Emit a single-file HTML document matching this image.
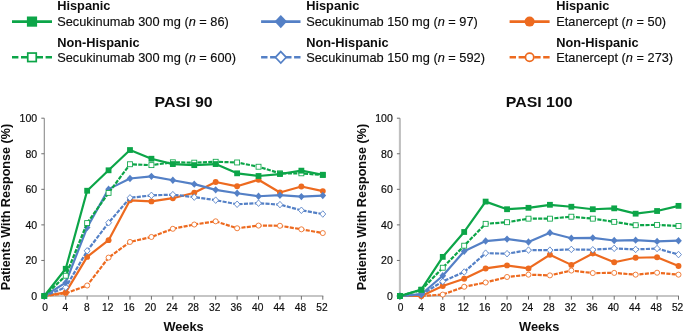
<!DOCTYPE html>
<html><head><meta charset="utf-8"><style>
html,body{margin:0;padding:0;background:#fff;}
body{width:685px;height:333px;overflow:hidden;}
svg{display:block;will-change:transform;font-family:"Liberation Sans",sans-serif;}
.tk{font-size:11.1px;fill:#0d0d0d;stroke:#0d0d0d;stroke-width:0.2px;}
.ax{font-size:12.6px;font-weight:bold;fill:#0d0d0d;}
.ti{font-size:15.9px;font-weight:bold;fill:#0d0d0d;}
.lh{font-size:12.8px;font-weight:bold;fill:#0d0d0d;}
.lt{font-size:12.8px;fill:#0d0d0d;stroke:#0d0d0d;stroke-width:0.15px;}
</style></head><body>
<svg width="685" height="333" viewBox="0 0 685 333">
<line x1="12" y1="21.6" x2="52" y2="21.6" stroke="#0ca548" stroke-width="2.7"/>
<rect x="26.90" y="16.50" width="10.20" height="10.20" fill="#0ca548"/>
<text transform="translate(57.2,10.3) scale(1,0.935)" x="0" y="0" class="lh">Hispanic</text>
<text transform="translate(57.2,25.6) scale(1,0.95)" x="0" y="0" class="lt">Secukinumab 300 mg (<tspan font-style="italic">n</tspan> = 86)</text>
<line x1="12" y1="57.3" x2="32.0" y2="57.3" stroke="#0ca548" stroke-width="2.4" stroke-dasharray="6.4 2.6"/>
<line x1="52" y1="57.3" x2="32.0" y2="57.3" stroke="#0ca548" stroke-width="2.4" stroke-dasharray="6.4 2.6"/>
<rect x="27.75" y="53.05" width="8.50" height="8.50" fill="#fff" stroke="#0ca548" stroke-width="1.7"/>
<text transform="translate(57.2,47.2) scale(1,0.935)" x="0" y="0" class="lh">Non-Hispanic</text>
<text transform="translate(57.2,62.2) scale(1,0.95)" x="0" y="0" class="lt">Secukinumab 300 mg (<tspan font-style="italic">n</tspan> = 600)</text>
<line x1="261.1" y1="21.6" x2="300.5" y2="21.6" stroke="#5480c6" stroke-width="2.7"/>
<polygon points="280.80,15.05 287.02,21.60 280.80,28.15 274.58,21.60" fill="#5480c6"/>
<text transform="translate(306.2,10.3) scale(1,0.935)" x="0" y="0" class="lh">Hispanic</text>
<text transform="translate(306.2,25.6) scale(1,0.95)" x="0" y="0" class="lt">Secukinumab 150 mg (<tspan font-style="italic">n</tspan> = 97)</text>
<line x1="261.1" y1="57.3" x2="280.8" y2="57.3" stroke="#5480c6" stroke-width="2.4" stroke-dasharray="6.4 2.6"/>
<line x1="300.5" y1="57.3" x2="280.8" y2="57.3" stroke="#5480c6" stroke-width="2.4" stroke-dasharray="6.4 2.6"/>
<polygon points="280.80,51.60 286.22,57.30 280.80,63.00 275.38,57.30" fill="#fff" stroke="#5480c6" stroke-width="1.7"/>
<text transform="translate(306.2,47.2) scale(1,0.935)" x="0" y="0" class="lh">Non-Hispanic</text>
<text transform="translate(306.2,62.2) scale(1,0.95)" x="0" y="0" class="lt">Secukinumab 150 mg (<tspan font-style="italic">n</tspan> = 592)</text>
<line x1="509.6" y1="21.6" x2="549.6" y2="21.6" stroke="#ed6a1f" stroke-width="2.7"/>
<circle cx="529.60" cy="21.60" r="5.00" fill="#ed6a1f"/>
<text transform="translate(556.2,10.3) scale(1,0.935)" x="0" y="0" class="lh">Hispanic</text>
<text transform="translate(556.2,25.6) scale(1,0.95)" x="0" y="0" class="lt">Etanercept (<tspan font-style="italic">n</tspan> = 50)</text>
<line x1="509.6" y1="57.3" x2="529.6" y2="57.3" stroke="#ed6a1f" stroke-width="2.4" stroke-dasharray="6.4 2.6"/>
<line x1="549.6" y1="57.3" x2="529.6" y2="57.3" stroke="#ed6a1f" stroke-width="2.4" stroke-dasharray="6.4 2.6"/>
<circle cx="529.60" cy="57.30" r="4.15" fill="#fff" stroke="#ed6a1f" stroke-width="1.7"/>
<text transform="translate(556.2,47.2) scale(1,0.935)" x="0" y="0" class="lh">Non-Hispanic</text>
<text transform="translate(556.2,62.2) scale(1,0.95)" x="0" y="0" class="lt">Etanercept (<tspan font-style="italic">n</tspan> = 273)</text>
<line x1="44.3" y1="118.2" x2="44.3" y2="296.5" stroke="#8c8c8c" stroke-width="1.1"/>
<line x1="43.8" y1="296.0" x2="323.3" y2="296.0" stroke="#8c8c8c" stroke-width="1.1"/>
<line x1="41.3" y1="296.00" x2="44.3" y2="296.00" stroke="#6e6e6e" stroke-width="1"/>
<text transform="translate(37.20,299.90) scale(0.95,1)" x="0" y="0" text-anchor="end" class="tk">0</text>
<line x1="41.3" y1="260.44" x2="44.3" y2="260.44" stroke="#6e6e6e" stroke-width="1"/>
<text transform="translate(37.20,264.34) scale(0.95,1)" x="0" y="0" text-anchor="end" class="tk">20</text>
<line x1="41.3" y1="224.88" x2="44.3" y2="224.88" stroke="#6e6e6e" stroke-width="1"/>
<text transform="translate(37.20,228.78) scale(0.95,1)" x="0" y="0" text-anchor="end" class="tk">40</text>
<line x1="41.3" y1="189.32" x2="44.3" y2="189.32" stroke="#6e6e6e" stroke-width="1"/>
<text transform="translate(37.20,193.22) scale(0.95,1)" x="0" y="0" text-anchor="end" class="tk">60</text>
<line x1="41.3" y1="153.76" x2="44.3" y2="153.76" stroke="#6e6e6e" stroke-width="1"/>
<text transform="translate(37.20,157.66) scale(0.95,1)" x="0" y="0" text-anchor="end" class="tk">80</text>
<line x1="41.3" y1="118.20" x2="44.3" y2="118.20" stroke="#6e6e6e" stroke-width="1"/>
<text transform="translate(37.20,122.10) scale(0.95,1)" x="0" y="0" text-anchor="end" class="tk">100</text>
<line x1="44.30" y1="296.0" x2="44.30" y2="299.7" stroke="#6e6e6e" stroke-width="1"/>
<text transform="translate(45.00,310.80) scale(0.88,1)" x="0" y="0" text-anchor="middle" class="tk" style="font-size:11.6px">0</text>
<line x1="65.72" y1="296.0" x2="65.72" y2="299.7" stroke="#6e6e6e" stroke-width="1"/>
<text transform="translate(65.42,310.80) scale(0.88,1)" x="0" y="0" text-anchor="middle" class="tk" style="font-size:11.6px">4</text>
<line x1="87.15" y1="296.0" x2="87.15" y2="299.7" stroke="#6e6e6e" stroke-width="1"/>
<text transform="translate(86.85,310.80) scale(0.88,1)" x="0" y="0" text-anchor="middle" class="tk" style="font-size:11.6px">8</text>
<line x1="108.57" y1="296.0" x2="108.57" y2="299.7" stroke="#6e6e6e" stroke-width="1"/>
<text transform="translate(107.67,310.80) scale(0.88,1)" x="0" y="0" text-anchor="middle" class="tk" style="font-size:11.6px">12</text>
<line x1="129.99" y1="296.0" x2="129.99" y2="299.7" stroke="#6e6e6e" stroke-width="1"/>
<text transform="translate(129.09,310.80) scale(0.88,1)" x="0" y="0" text-anchor="middle" class="tk" style="font-size:11.6px">16</text>
<line x1="151.42" y1="296.0" x2="151.42" y2="299.7" stroke="#6e6e6e" stroke-width="1"/>
<text transform="translate(150.52,310.80) scale(0.88,1)" x="0" y="0" text-anchor="middle" class="tk" style="font-size:11.6px">20</text>
<line x1="172.84" y1="296.0" x2="172.84" y2="299.7" stroke="#6e6e6e" stroke-width="1"/>
<text transform="translate(171.94,310.80) scale(0.88,1)" x="0" y="0" text-anchor="middle" class="tk" style="font-size:11.6px">24</text>
<line x1="194.26" y1="296.0" x2="194.26" y2="299.7" stroke="#6e6e6e" stroke-width="1"/>
<text transform="translate(193.36,310.80) scale(0.88,1)" x="0" y="0" text-anchor="middle" class="tk" style="font-size:11.6px">28</text>
<line x1="215.68" y1="296.0" x2="215.68" y2="299.7" stroke="#6e6e6e" stroke-width="1"/>
<text transform="translate(214.78,310.80) scale(0.88,1)" x="0" y="0" text-anchor="middle" class="tk" style="font-size:11.6px">32</text>
<line x1="237.11" y1="296.0" x2="237.11" y2="299.7" stroke="#6e6e6e" stroke-width="1"/>
<text transform="translate(236.21,310.80) scale(0.88,1)" x="0" y="0" text-anchor="middle" class="tk" style="font-size:11.6px">36</text>
<line x1="258.53" y1="296.0" x2="258.53" y2="299.7" stroke="#6e6e6e" stroke-width="1"/>
<text transform="translate(257.63,310.80) scale(0.88,1)" x="0" y="0" text-anchor="middle" class="tk" style="font-size:11.6px">40</text>
<line x1="279.95" y1="296.0" x2="279.95" y2="299.7" stroke="#6e6e6e" stroke-width="1"/>
<text transform="translate(279.05,310.80) scale(0.88,1)" x="0" y="0" text-anchor="middle" class="tk" style="font-size:11.6px">44</text>
<line x1="301.38" y1="296.0" x2="301.38" y2="299.7" stroke="#6e6e6e" stroke-width="1"/>
<text transform="translate(300.48,310.80) scale(0.88,1)" x="0" y="0" text-anchor="middle" class="tk" style="font-size:11.6px">48</text>
<line x1="322.80" y1="296.0" x2="322.80" y2="299.7" stroke="#6e6e6e" stroke-width="1"/>
<text transform="translate(321.90,310.80) scale(0.88,1)" x="0" y="0" text-anchor="middle" class="tk" style="font-size:11.6px">52</text>
<text transform="translate(183.55,331.0) scale(1,0.95)" x="0" y="0" text-anchor="middle" class="ax" style="font-size:12.8px">Weeks</text>
<text transform="translate(183.55,106.8) scale(1,0.96)" x="0" y="0" text-anchor="middle" class="ti">PASI 90</text>
<text transform="translate(10.10,207.10) rotate(-90)" x="0" y="0" text-anchor="middle" class="ax">Patients With Response (%)</text>
<polyline points="44.30,296.00 65.72,293.33 87.15,285.51 108.57,257.60 129.99,241.95 151.42,236.97 172.84,228.79 194.26,224.52 215.68,221.32 237.11,228.26 258.53,225.59 279.95,225.77 301.38,229.32 322.80,233.06" fill="none" stroke="#ed6a1f" stroke-width="2.2" stroke-linejoin="round" stroke-dasharray="4.1 1.3"/>
<circle cx="44.30" cy="296.00" r="2.53" fill="#fff" stroke="#ed6a1f" stroke-width="0.85"/>
<circle cx="65.72" cy="293.33" r="2.53" fill="#fff" stroke="#ed6a1f" stroke-width="0.85"/>
<circle cx="87.15" cy="285.51" r="2.53" fill="#fff" stroke="#ed6a1f" stroke-width="0.85"/>
<circle cx="108.57" cy="257.60" r="2.53" fill="#fff" stroke="#ed6a1f" stroke-width="0.85"/>
<circle cx="129.99" cy="241.95" r="2.53" fill="#fff" stroke="#ed6a1f" stroke-width="0.85"/>
<circle cx="151.42" cy="236.97" r="2.53" fill="#fff" stroke="#ed6a1f" stroke-width="0.85"/>
<circle cx="172.84" cy="228.79" r="2.53" fill="#fff" stroke="#ed6a1f" stroke-width="0.85"/>
<circle cx="194.26" cy="224.52" r="2.53" fill="#fff" stroke="#ed6a1f" stroke-width="0.85"/>
<circle cx="215.68" cy="221.32" r="2.53" fill="#fff" stroke="#ed6a1f" stroke-width="0.85"/>
<circle cx="237.11" cy="228.26" r="2.53" fill="#fff" stroke="#ed6a1f" stroke-width="0.85"/>
<circle cx="258.53" cy="225.59" r="2.53" fill="#fff" stroke="#ed6a1f" stroke-width="0.85"/>
<circle cx="279.95" cy="225.77" r="2.53" fill="#fff" stroke="#ed6a1f" stroke-width="0.85"/>
<circle cx="301.38" cy="229.32" r="2.53" fill="#fff" stroke="#ed6a1f" stroke-width="0.85"/>
<circle cx="322.80" cy="233.06" r="2.53" fill="#fff" stroke="#ed6a1f" stroke-width="0.85"/>
<polyline points="44.30,296.00 65.72,292.44 87.15,256.88 108.57,240.17 129.99,200.34 151.42,201.41 172.84,198.21 194.26,192.70 215.68,182.03 237.11,186.30 258.53,179.72 279.95,192.52 301.38,186.48 322.80,191.10" fill="none" stroke="#ed6a1f" stroke-width="2.2" stroke-linejoin="round"/>
<circle cx="44.30" cy="296.00" r="2.95" fill="#ed6a1f"/>
<circle cx="65.72" cy="292.44" r="2.95" fill="#ed6a1f"/>
<circle cx="87.15" cy="256.88" r="2.95" fill="#ed6a1f"/>
<circle cx="108.57" cy="240.17" r="2.95" fill="#ed6a1f"/>
<circle cx="129.99" cy="200.34" r="2.95" fill="#ed6a1f"/>
<circle cx="151.42" cy="201.41" r="2.95" fill="#ed6a1f"/>
<circle cx="172.84" cy="198.21" r="2.95" fill="#ed6a1f"/>
<circle cx="194.26" cy="192.70" r="2.95" fill="#ed6a1f"/>
<circle cx="215.68" cy="182.03" r="2.95" fill="#ed6a1f"/>
<circle cx="237.11" cy="186.30" r="2.95" fill="#ed6a1f"/>
<circle cx="258.53" cy="179.72" r="2.95" fill="#ed6a1f"/>
<circle cx="279.95" cy="192.52" r="2.95" fill="#ed6a1f"/>
<circle cx="301.38" cy="186.48" r="2.95" fill="#ed6a1f"/>
<circle cx="322.80" cy="191.10" r="2.95" fill="#ed6a1f"/>
<polyline points="44.30,296.00 65.72,287.29 87.15,250.84 108.57,222.75 129.99,197.85 151.42,195.37 172.84,194.65 194.26,197.14 215.68,200.17 237.11,204.26 258.53,203.19 279.95,204.61 301.38,210.30 322.80,214.03" fill="none" stroke="#5480c6" stroke-width="2.2" stroke-linejoin="round" stroke-dasharray="4.1 1.3"/>
<polygon points="44.30,292.73 47.25,296.00 44.30,299.27 41.35,296.00" fill="#fff" stroke="#5480c6" stroke-width="0.85"/>
<polygon points="65.72,284.01 68.67,287.29 65.72,290.56 62.78,287.29" fill="#fff" stroke="#5480c6" stroke-width="0.85"/>
<polygon points="87.15,247.56 90.09,250.84 87.15,254.11 84.20,250.84" fill="#fff" stroke="#5480c6" stroke-width="0.85"/>
<polygon points="108.57,219.47 111.52,222.75 108.57,226.02 105.62,222.75" fill="#fff" stroke="#5480c6" stroke-width="0.85"/>
<polygon points="129.99,194.58 132.94,197.85 129.99,201.13 127.04,197.85" fill="#fff" stroke="#5480c6" stroke-width="0.85"/>
<polygon points="151.42,192.09 154.36,195.37 151.42,198.64 148.47,195.37" fill="#fff" stroke="#5480c6" stroke-width="0.85"/>
<polygon points="172.84,191.38 175.79,194.65 172.84,197.93 169.89,194.65" fill="#fff" stroke="#5480c6" stroke-width="0.85"/>
<polygon points="194.26,193.87 197.21,197.14 194.26,200.42 191.31,197.14" fill="#fff" stroke="#5480c6" stroke-width="0.85"/>
<polygon points="215.68,196.89 218.63,200.17 215.68,203.44 212.74,200.17" fill="#fff" stroke="#5480c6" stroke-width="0.85"/>
<polygon points="237.11,200.98 240.06,204.26 237.11,207.53 234.16,204.26" fill="#fff" stroke="#5480c6" stroke-width="0.85"/>
<polygon points="258.53,199.91 261.48,203.19 258.53,206.46 255.58,203.19" fill="#fff" stroke="#5480c6" stroke-width="0.85"/>
<polygon points="279.95,201.34 282.90,204.61 279.95,207.89 277.01,204.61" fill="#fff" stroke="#5480c6" stroke-width="0.85"/>
<polygon points="301.38,207.03 304.32,210.30 301.38,213.58 298.43,210.30" fill="#fff" stroke="#5480c6" stroke-width="0.85"/>
<polygon points="322.80,210.76 325.75,214.03 322.80,217.31 319.85,214.03" fill="#fff" stroke="#5480c6" stroke-width="0.85"/>
<polyline points="44.30,296.00 65.72,282.67 87.15,227.55 108.57,189.14 129.99,178.47 151.42,176.34 172.84,180.25 194.26,184.16 215.68,189.85 237.11,193.23 258.53,196.25 279.95,195.19 301.38,196.61 322.80,195.54" fill="none" stroke="#5480c6" stroke-width="2.2" stroke-linejoin="round"/>
<polygon points="44.30,292.30 47.63,296.00 44.30,299.70 40.97,296.00" fill="#5480c6"/>
<polygon points="65.72,278.97 69.05,282.67 65.72,286.37 62.39,282.67" fill="#5480c6"/>
<polygon points="87.15,223.85 90.48,227.55 87.15,231.25 83.82,227.55" fill="#5480c6"/>
<polygon points="108.57,185.44 111.90,189.14 108.57,192.84 105.24,189.14" fill="#5480c6"/>
<polygon points="129.99,174.77 133.32,178.47 129.99,182.17 126.66,178.47" fill="#5480c6"/>
<polygon points="151.42,172.64 154.75,176.34 151.42,180.04 148.09,176.34" fill="#5480c6"/>
<polygon points="172.84,176.55 176.17,180.25 172.84,183.95 169.51,180.25" fill="#5480c6"/>
<polygon points="194.26,180.46 197.59,184.16 194.26,187.86 190.93,184.16" fill="#5480c6"/>
<polygon points="215.68,186.15 219.01,189.85 215.68,193.55 212.35,189.85" fill="#5480c6"/>
<polygon points="237.11,189.53 240.44,193.23 237.11,196.93 233.78,193.23" fill="#5480c6"/>
<polygon points="258.53,192.55 261.86,196.25 258.53,199.95 255.20,196.25" fill="#5480c6"/>
<polygon points="279.95,191.49 283.28,195.19 279.95,198.89 276.62,195.19" fill="#5480c6"/>
<polygon points="301.38,192.91 304.71,196.61 301.38,200.31 298.05,196.61" fill="#5480c6"/>
<polygon points="322.80,191.84 326.13,195.54 322.80,199.24 319.47,195.54" fill="#5480c6"/>
<polyline points="44.30,296.00 65.72,275.73 87.15,223.10 108.57,192.88 129.99,164.25 151.42,165.14 172.84,162.29 194.26,162.65 215.68,161.76 237.11,162.47 258.53,166.74 279.95,173.32 301.38,173.32 322.80,175.10" fill="none" stroke="#0ca548" stroke-width="2.2" stroke-linejoin="round" stroke-dasharray="4.1 1.3"/>
<rect x="41.82" y="293.52" width="4.95" height="4.95" fill="#fff" stroke="#0ca548" stroke-width="0.85"/>
<rect x="63.25" y="273.26" width="4.95" height="4.95" fill="#fff" stroke="#0ca548" stroke-width="0.85"/>
<rect x="84.67" y="220.63" width="4.95" height="4.95" fill="#fff" stroke="#0ca548" stroke-width="0.85"/>
<rect x="106.09" y="190.40" width="4.95" height="4.95" fill="#fff" stroke="#0ca548" stroke-width="0.85"/>
<rect x="127.52" y="161.78" width="4.95" height="4.95" fill="#fff" stroke="#0ca548" stroke-width="0.85"/>
<rect x="148.94" y="162.66" width="4.95" height="4.95" fill="#fff" stroke="#0ca548" stroke-width="0.85"/>
<rect x="170.36" y="159.82" width="4.95" height="4.95" fill="#fff" stroke="#0ca548" stroke-width="0.85"/>
<rect x="191.79" y="160.18" width="4.95" height="4.95" fill="#fff" stroke="#0ca548" stroke-width="0.85"/>
<rect x="213.21" y="159.29" width="4.95" height="4.95" fill="#fff" stroke="#0ca548" stroke-width="0.85"/>
<rect x="234.63" y="160.00" width="4.95" height="4.95" fill="#fff" stroke="#0ca548" stroke-width="0.85"/>
<rect x="256.06" y="164.26" width="4.95" height="4.95" fill="#fff" stroke="#0ca548" stroke-width="0.85"/>
<rect x="277.48" y="170.84" width="4.95" height="4.95" fill="#fff" stroke="#0ca548" stroke-width="0.85"/>
<rect x="298.90" y="170.84" width="4.95" height="4.95" fill="#fff" stroke="#0ca548" stroke-width="0.85"/>
<rect x="320.32" y="172.62" width="4.95" height="4.95" fill="#fff" stroke="#0ca548" stroke-width="0.85"/>
<polyline points="44.30,296.00 65.72,268.80 87.15,190.74 108.57,170.30 129.99,150.03 151.42,158.74 172.84,164.07 194.26,165.14 215.68,164.07 237.11,173.32 258.53,175.99 279.95,174.03 301.38,170.65 322.80,174.74" fill="none" stroke="#0ca548" stroke-width="2.2" stroke-linejoin="round"/>
<rect x="41.40" y="293.10" width="5.80" height="5.80" fill="#0ca548"/>
<rect x="62.82" y="265.90" width="5.80" height="5.80" fill="#0ca548"/>
<rect x="84.25" y="187.84" width="5.80" height="5.80" fill="#0ca548"/>
<rect x="105.67" y="167.40" width="5.80" height="5.80" fill="#0ca548"/>
<rect x="127.09" y="147.13" width="5.80" height="5.80" fill="#0ca548"/>
<rect x="148.52" y="155.84" width="5.80" height="5.80" fill="#0ca548"/>
<rect x="169.94" y="161.17" width="5.80" height="5.80" fill="#0ca548"/>
<rect x="191.36" y="162.24" width="5.80" height="5.80" fill="#0ca548"/>
<rect x="212.78" y="161.17" width="5.80" height="5.80" fill="#0ca548"/>
<rect x="234.21" y="170.42" width="5.80" height="5.80" fill="#0ca548"/>
<rect x="255.63" y="173.09" width="5.80" height="5.80" fill="#0ca548"/>
<rect x="277.05" y="171.13" width="5.80" height="5.80" fill="#0ca548"/>
<rect x="298.48" y="167.75" width="5.80" height="5.80" fill="#0ca548"/>
<rect x="319.90" y="171.84" width="5.80" height="5.80" fill="#0ca548"/>
<line x1="399.9" y1="118.2" x2="399.9" y2="296.5" stroke="#c0c0c0" stroke-width="2.1"/>
<line x1="399.4" y1="296.0" x2="679.0" y2="296.0" stroke="#8c8c8c" stroke-width="1.1"/>
<line x1="396.9" y1="296.00" x2="399.9" y2="296.00" stroke="#6e6e6e" stroke-width="1"/>
<text transform="translate(392.80,299.90) scale(0.95,1)" x="0" y="0" text-anchor="end" class="tk">0</text>
<line x1="396.9" y1="260.44" x2="399.9" y2="260.44" stroke="#6e6e6e" stroke-width="1"/>
<text transform="translate(392.80,264.34) scale(0.95,1)" x="0" y="0" text-anchor="end" class="tk">20</text>
<line x1="396.9" y1="224.88" x2="399.9" y2="224.88" stroke="#6e6e6e" stroke-width="1"/>
<text transform="translate(392.80,228.78) scale(0.95,1)" x="0" y="0" text-anchor="end" class="tk">40</text>
<line x1="396.9" y1="189.32" x2="399.9" y2="189.32" stroke="#6e6e6e" stroke-width="1"/>
<text transform="translate(392.80,193.22) scale(0.95,1)" x="0" y="0" text-anchor="end" class="tk">60</text>
<line x1="396.9" y1="153.76" x2="399.9" y2="153.76" stroke="#6e6e6e" stroke-width="1"/>
<text transform="translate(392.80,157.66) scale(0.95,1)" x="0" y="0" text-anchor="end" class="tk">80</text>
<line x1="396.9" y1="118.20" x2="399.9" y2="118.20" stroke="#6e6e6e" stroke-width="1"/>
<text transform="translate(392.80,122.10) scale(0.95,1)" x="0" y="0" text-anchor="end" class="tk">100</text>
<line x1="399.90" y1="296.0" x2="399.90" y2="299.7" stroke="#6e6e6e" stroke-width="1"/>
<text transform="translate(400.60,310.80) scale(0.88,1)" x="0" y="0" text-anchor="middle" class="tk" style="font-size:11.6px">0</text>
<line x1="421.33" y1="296.0" x2="421.33" y2="299.7" stroke="#6e6e6e" stroke-width="1"/>
<text transform="translate(421.03,310.80) scale(0.88,1)" x="0" y="0" text-anchor="middle" class="tk" style="font-size:11.6px">4</text>
<line x1="442.76" y1="296.0" x2="442.76" y2="299.7" stroke="#6e6e6e" stroke-width="1"/>
<text transform="translate(442.46,310.80) scale(0.88,1)" x="0" y="0" text-anchor="middle" class="tk" style="font-size:11.6px">8</text>
<line x1="464.19" y1="296.0" x2="464.19" y2="299.7" stroke="#6e6e6e" stroke-width="1"/>
<text transform="translate(463.29,310.80) scale(0.88,1)" x="0" y="0" text-anchor="middle" class="tk" style="font-size:11.6px">12</text>
<line x1="485.62" y1="296.0" x2="485.62" y2="299.7" stroke="#6e6e6e" stroke-width="1"/>
<text transform="translate(484.72,310.80) scale(0.88,1)" x="0" y="0" text-anchor="middle" class="tk" style="font-size:11.6px">16</text>
<line x1="507.05" y1="296.0" x2="507.05" y2="299.7" stroke="#6e6e6e" stroke-width="1"/>
<text transform="translate(506.15,310.80) scale(0.88,1)" x="0" y="0" text-anchor="middle" class="tk" style="font-size:11.6px">20</text>
<line x1="528.48" y1="296.0" x2="528.48" y2="299.7" stroke="#6e6e6e" stroke-width="1"/>
<text transform="translate(527.58,310.80) scale(0.88,1)" x="0" y="0" text-anchor="middle" class="tk" style="font-size:11.6px">24</text>
<line x1="549.92" y1="296.0" x2="549.92" y2="299.7" stroke="#6e6e6e" stroke-width="1"/>
<text transform="translate(549.02,310.80) scale(0.88,1)" x="0" y="0" text-anchor="middle" class="tk" style="font-size:11.6px">28</text>
<line x1="571.35" y1="296.0" x2="571.35" y2="299.7" stroke="#6e6e6e" stroke-width="1"/>
<text transform="translate(570.45,310.80) scale(0.88,1)" x="0" y="0" text-anchor="middle" class="tk" style="font-size:11.6px">32</text>
<line x1="592.78" y1="296.0" x2="592.78" y2="299.7" stroke="#6e6e6e" stroke-width="1"/>
<text transform="translate(591.88,310.80) scale(0.88,1)" x="0" y="0" text-anchor="middle" class="tk" style="font-size:11.6px">36</text>
<line x1="614.21" y1="296.0" x2="614.21" y2="299.7" stroke="#6e6e6e" stroke-width="1"/>
<text transform="translate(613.31,310.80) scale(0.88,1)" x="0" y="0" text-anchor="middle" class="tk" style="font-size:11.6px">40</text>
<line x1="635.64" y1="296.0" x2="635.64" y2="299.7" stroke="#6e6e6e" stroke-width="1"/>
<text transform="translate(634.74,310.80) scale(0.88,1)" x="0" y="0" text-anchor="middle" class="tk" style="font-size:11.6px">44</text>
<line x1="657.07" y1="296.0" x2="657.07" y2="299.7" stroke="#6e6e6e" stroke-width="1"/>
<text transform="translate(656.17,310.80) scale(0.88,1)" x="0" y="0" text-anchor="middle" class="tk" style="font-size:11.6px">48</text>
<line x1="678.50" y1="296.0" x2="678.50" y2="299.7" stroke="#6e6e6e" stroke-width="1"/>
<text transform="translate(677.60,310.80) scale(0.88,1)" x="0" y="0" text-anchor="middle" class="tk" style="font-size:11.6px">52</text>
<text transform="translate(539.20,331.0) scale(1,0.95)" x="0" y="0" text-anchor="middle" class="ax" style="font-size:12.8px">Weeks</text>
<text transform="translate(539.20,106.8) scale(1,0.96)" x="0" y="0" text-anchor="middle" class="ti">PASI 100</text>
<text transform="translate(365.80,207.10) rotate(-90)" x="0" y="0" text-anchor="middle" class="ax">Patients With Response (%)</text>
<polyline points="399.90,296.00 421.33,296.00 442.76,294.58 464.19,286.75 485.62,282.49 507.05,276.98 528.48,274.66 549.92,275.38 571.35,270.57 592.78,273.06 614.21,272.89 635.64,274.66 657.07,272.71 678.50,274.66" fill="none" stroke="#ed6a1f" stroke-width="2.2" stroke-linejoin="round" stroke-dasharray="4.1 1.3"/>
<circle cx="399.90" cy="296.00" r="2.53" fill="#fff" stroke="#ed6a1f" stroke-width="0.85"/>
<circle cx="421.33" cy="296.00" r="2.53" fill="#fff" stroke="#ed6a1f" stroke-width="0.85"/>
<circle cx="442.76" cy="294.58" r="2.53" fill="#fff" stroke="#ed6a1f" stroke-width="0.85"/>
<circle cx="464.19" cy="286.75" r="2.53" fill="#fff" stroke="#ed6a1f" stroke-width="0.85"/>
<circle cx="485.62" cy="282.49" r="2.53" fill="#fff" stroke="#ed6a1f" stroke-width="0.85"/>
<circle cx="507.05" cy="276.98" r="2.53" fill="#fff" stroke="#ed6a1f" stroke-width="0.85"/>
<circle cx="528.48" cy="274.66" r="2.53" fill="#fff" stroke="#ed6a1f" stroke-width="0.85"/>
<circle cx="549.92" cy="275.38" r="2.53" fill="#fff" stroke="#ed6a1f" stroke-width="0.85"/>
<circle cx="571.35" cy="270.57" r="2.53" fill="#fff" stroke="#ed6a1f" stroke-width="0.85"/>
<circle cx="592.78" cy="273.06" r="2.53" fill="#fff" stroke="#ed6a1f" stroke-width="0.85"/>
<circle cx="614.21" cy="272.89" r="2.53" fill="#fff" stroke="#ed6a1f" stroke-width="0.85"/>
<circle cx="635.64" cy="274.66" r="2.53" fill="#fff" stroke="#ed6a1f" stroke-width="0.85"/>
<circle cx="657.07" cy="272.71" r="2.53" fill="#fff" stroke="#ed6a1f" stroke-width="0.85"/>
<circle cx="678.50" cy="274.66" r="2.53" fill="#fff" stroke="#ed6a1f" stroke-width="0.85"/>
<polyline points="399.90,296.00 421.33,296.00 442.76,286.04 464.19,278.75 485.62,268.44 507.05,265.42 528.48,268.44 549.92,254.75 571.35,264.88 592.78,253.51 614.21,262.22 635.64,257.77 657.07,257.24 678.50,265.95" fill="none" stroke="#ed6a1f" stroke-width="2.2" stroke-linejoin="round"/>
<circle cx="399.90" cy="296.00" r="2.95" fill="#ed6a1f"/>
<circle cx="421.33" cy="296.00" r="2.95" fill="#ed6a1f"/>
<circle cx="442.76" cy="286.04" r="2.95" fill="#ed6a1f"/>
<circle cx="464.19" cy="278.75" r="2.95" fill="#ed6a1f"/>
<circle cx="485.62" cy="268.44" r="2.95" fill="#ed6a1f"/>
<circle cx="507.05" cy="265.42" r="2.95" fill="#ed6a1f"/>
<circle cx="528.48" cy="268.44" r="2.95" fill="#ed6a1f"/>
<circle cx="549.92" cy="254.75" r="2.95" fill="#ed6a1f"/>
<circle cx="571.35" cy="264.88" r="2.95" fill="#ed6a1f"/>
<circle cx="592.78" cy="253.51" r="2.95" fill="#ed6a1f"/>
<circle cx="614.21" cy="262.22" r="2.95" fill="#ed6a1f"/>
<circle cx="635.64" cy="257.77" r="2.95" fill="#ed6a1f"/>
<circle cx="657.07" cy="257.24" r="2.95" fill="#ed6a1f"/>
<circle cx="678.50" cy="265.95" r="2.95" fill="#ed6a1f"/>
<polyline points="399.90,296.00 421.33,294.58 442.76,281.42 464.19,272.00 485.62,253.15 507.05,253.68 528.48,250.13 549.92,250.13 571.35,249.42 592.78,249.77 614.21,248.35 635.64,249.42 657.07,248.53 678.50,254.57" fill="none" stroke="#5480c6" stroke-width="2.2" stroke-linejoin="round" stroke-dasharray="4.1 1.3"/>
<polygon points="399.90,292.73 402.85,296.00 399.90,299.27 396.95,296.00" fill="#fff" stroke="#5480c6" stroke-width="0.85"/>
<polygon points="421.33,291.30 424.28,294.58 421.33,297.85 418.38,294.58" fill="#fff" stroke="#5480c6" stroke-width="0.85"/>
<polygon points="442.76,278.15 445.71,281.42 442.76,284.70 439.81,281.42" fill="#fff" stroke="#5480c6" stroke-width="0.85"/>
<polygon points="464.19,268.72 467.14,272.00 464.19,275.27 461.24,272.00" fill="#fff" stroke="#5480c6" stroke-width="0.85"/>
<polygon points="485.62,249.88 488.57,253.15 485.62,256.43 482.68,253.15" fill="#fff" stroke="#5480c6" stroke-width="0.85"/>
<polygon points="507.05,250.41 510.00,253.68 507.05,256.96 504.11,253.68" fill="#fff" stroke="#5480c6" stroke-width="0.85"/>
<polygon points="528.48,246.85 531.43,250.13 528.48,253.40 525.54,250.13" fill="#fff" stroke="#5480c6" stroke-width="0.85"/>
<polygon points="549.92,246.85 552.86,250.13 549.92,253.40 546.97,250.13" fill="#fff" stroke="#5480c6" stroke-width="0.85"/>
<polygon points="571.35,246.14 574.29,249.42 571.35,252.69 568.40,249.42" fill="#fff" stroke="#5480c6" stroke-width="0.85"/>
<polygon points="592.78,246.50 595.72,249.77 592.78,253.05 589.83,249.77" fill="#fff" stroke="#5480c6" stroke-width="0.85"/>
<polygon points="614.21,245.07 617.16,248.35 614.21,251.62 611.26,248.35" fill="#fff" stroke="#5480c6" stroke-width="0.85"/>
<polygon points="635.64,246.14 638.59,249.42 635.64,252.69 632.69,249.42" fill="#fff" stroke="#5480c6" stroke-width="0.85"/>
<polygon points="657.07,245.25 660.02,248.53 657.07,251.80 654.12,248.53" fill="#fff" stroke="#5480c6" stroke-width="0.85"/>
<polygon points="678.50,251.30 681.45,254.57 678.50,257.85 675.55,254.57" fill="#fff" stroke="#5480c6" stroke-width="0.85"/>
<polyline points="399.90,296.00 421.33,294.22 442.76,275.73 464.19,251.19 485.62,241.06 507.05,239.10 528.48,241.95 549.92,232.70 571.35,238.22 592.78,237.86 614.21,240.53 635.64,240.17 657.07,241.42 678.50,240.70" fill="none" stroke="#5480c6" stroke-width="2.2" stroke-linejoin="round"/>
<polygon points="399.90,292.30 403.23,296.00 399.90,299.70 396.57,296.00" fill="#5480c6"/>
<polygon points="421.33,290.52 424.66,294.22 421.33,297.92 418.00,294.22" fill="#5480c6"/>
<polygon points="442.76,272.03 446.09,275.73 442.76,279.43 439.43,275.73" fill="#5480c6"/>
<polygon points="464.19,247.49 467.52,251.19 464.19,254.89 460.86,251.19" fill="#5480c6"/>
<polygon points="485.62,237.36 488.95,241.06 485.62,244.76 482.29,241.06" fill="#5480c6"/>
<polygon points="507.05,235.40 510.38,239.10 507.05,242.80 503.72,239.10" fill="#5480c6"/>
<polygon points="528.48,238.25 531.81,241.95 528.48,245.65 525.15,241.95" fill="#5480c6"/>
<polygon points="549.92,229.00 553.25,232.70 549.92,236.40 546.59,232.70" fill="#5480c6"/>
<polygon points="571.35,234.52 574.68,238.22 571.35,241.91 568.02,238.22" fill="#5480c6"/>
<polygon points="592.78,234.16 596.11,237.86 592.78,241.56 589.45,237.86" fill="#5480c6"/>
<polygon points="614.21,236.83 617.54,240.53 614.21,244.23 610.88,240.53" fill="#5480c6"/>
<polygon points="635.64,236.47 638.97,240.17 635.64,243.87 632.31,240.17" fill="#5480c6"/>
<polygon points="657.07,237.72 660.40,241.42 657.07,245.12 653.74,241.42" fill="#5480c6"/>
<polygon points="678.50,237.00 681.83,240.70 678.50,244.40 675.17,240.70" fill="#5480c6"/>
<polyline points="399.90,296.00 421.33,289.95 442.76,267.73 464.19,245.68 485.62,223.81 507.05,222.21 528.48,218.66 549.92,218.66 571.35,216.70 592.78,218.66 614.21,221.86 635.64,225.24 657.07,224.88 678.50,225.95" fill="none" stroke="#0ca548" stroke-width="2.2" stroke-linejoin="round" stroke-dasharray="4.1 1.3"/>
<rect x="397.42" y="293.52" width="4.95" height="4.95" fill="#fff" stroke="#0ca548" stroke-width="0.85"/>
<rect x="418.86" y="287.48" width="4.95" height="4.95" fill="#fff" stroke="#0ca548" stroke-width="0.85"/>
<rect x="440.29" y="265.25" width="4.95" height="4.95" fill="#fff" stroke="#0ca548" stroke-width="0.85"/>
<rect x="461.72" y="243.21" width="4.95" height="4.95" fill="#fff" stroke="#0ca548" stroke-width="0.85"/>
<rect x="483.15" y="221.34" width="4.95" height="4.95" fill="#fff" stroke="#0ca548" stroke-width="0.85"/>
<rect x="504.58" y="219.74" width="4.95" height="4.95" fill="#fff" stroke="#0ca548" stroke-width="0.85"/>
<rect x="526.01" y="216.18" width="4.95" height="4.95" fill="#fff" stroke="#0ca548" stroke-width="0.85"/>
<rect x="547.44" y="216.18" width="4.95" height="4.95" fill="#fff" stroke="#0ca548" stroke-width="0.85"/>
<rect x="568.87" y="214.23" width="4.95" height="4.95" fill="#fff" stroke="#0ca548" stroke-width="0.85"/>
<rect x="590.30" y="216.18" width="4.95" height="4.95" fill="#fff" stroke="#0ca548" stroke-width="0.85"/>
<rect x="611.73" y="219.38" width="4.95" height="4.95" fill="#fff" stroke="#0ca548" stroke-width="0.85"/>
<rect x="633.16" y="222.76" width="4.95" height="4.95" fill="#fff" stroke="#0ca548" stroke-width="0.85"/>
<rect x="654.59" y="222.41" width="4.95" height="4.95" fill="#fff" stroke="#0ca548" stroke-width="0.85"/>
<rect x="676.02" y="223.47" width="4.95" height="4.95" fill="#fff" stroke="#0ca548" stroke-width="0.85"/>
<polyline points="399.90,296.00 421.33,289.60 442.76,256.88 464.19,231.99 485.62,201.59 507.05,209.23 528.48,207.81 549.92,204.79 571.35,206.74 592.78,209.23 614.21,208.34 635.64,213.68 657.07,211.01 678.50,205.86" fill="none" stroke="#0ca548" stroke-width="2.2" stroke-linejoin="round"/>
<rect x="397.00" y="293.10" width="5.80" height="5.80" fill="#0ca548"/>
<rect x="418.43" y="286.70" width="5.80" height="5.80" fill="#0ca548"/>
<rect x="439.86" y="253.98" width="5.80" height="5.80" fill="#0ca548"/>
<rect x="461.29" y="229.09" width="5.80" height="5.80" fill="#0ca548"/>
<rect x="482.72" y="198.69" width="5.80" height="5.80" fill="#0ca548"/>
<rect x="504.15" y="206.33" width="5.80" height="5.80" fill="#0ca548"/>
<rect x="525.58" y="204.91" width="5.80" height="5.80" fill="#0ca548"/>
<rect x="547.02" y="201.89" width="5.80" height="5.80" fill="#0ca548"/>
<rect x="568.45" y="203.84" width="5.80" height="5.80" fill="#0ca548"/>
<rect x="589.88" y="206.33" width="5.80" height="5.80" fill="#0ca548"/>
<rect x="611.31" y="205.44" width="5.80" height="5.80" fill="#0ca548"/>
<rect x="632.74" y="210.78" width="5.80" height="5.80" fill="#0ca548"/>
<rect x="654.17" y="208.11" width="5.80" height="5.80" fill="#0ca548"/>
<rect x="675.60" y="202.96" width="5.80" height="5.80" fill="#0ca548"/>
</svg>
</body></html>
